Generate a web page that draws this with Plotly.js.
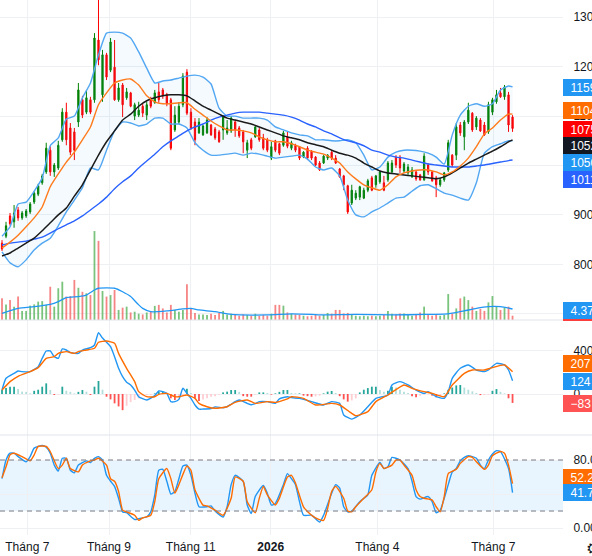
<!DOCTYPE html>
<html><head><meta charset="utf-8">
<script src="https://cdn.plot.ly/plotly-3.0.1.min.js"></script>
<style>html,body{margin:0;padding:0;background:#fff}#chart{width:592px;height:556px}</style>
</head><body><div id="chart"></div>
<script>
// ---------- DATA (one candle per ~2 trading days) ----------
const open = [8430,8570,8980,8860,9100,8940,8980,9060,9260,9420,
9650,9870,10310,9870,9950,10520,11080,10760,10680,10880,
11330,11080,11330,11330,12540,11430,12240,11930,11990,11330,
11630,11370,11470,11000,11020,11200,11020,11350,11270,11490,
11530,11430,11330,10720,10880,11230,11890,11080,10880,10660,
10620,10660,10820,10740,10680,10720,10660,10700,10880,10760,
10680,10310,10520,10580,10720,10560,10520,10150,10500,10440,
10410,10580,10350,10410,10380,10170,10350,10290,10170,10050,
10050,10150,10270,10150,9930,9790,9590,9240,9340,9360,
9340,9500,9750,9610,9670,9650,9710,9870,10170,10170,
9890,9850,9770,9870,9810,9710,10010,9870,9750,9610,
9710,9910,10210,10210,10820,10580,10880,11060,10780,10920,
10820,10680,11080,11290,11470,11390,11430,10980];
const high = [8490,8860,9040,9200,9160,9080,9120,9260,9480,9630,
9830,10460,10390,10050,10500,11160,11270,10860,10760,11670,
11410,11530,11390,12680,13400,12340,12280,12580,12540,11670,
11670,11570,11490,11270,11290,11250,11290,11390,11530,11670,
11570,11470,11370,11200,11270,11870,11950,11160,10960,10960,
10820,10980,10840,10780,10720,11020,10920,11000,10920,10800,
10720,10520,10560,10800,10760,10640,10560,10480,10520,10460,
10700,10680,10500,10440,10390,10290,10390,10310,10190,10090,
10210,10230,10290,10210,9950,9810,9610,9610,9500,9590,
9550,9730,9790,9810,9890,9790,10090,10110,10210,10210,
10070,10030,9970,9910,9830,10250,10050,9890,9790,9750,
9870,10520,10230,10860,10880,10920,11270,11080,11000,10960,
10880,11290,11370,11530,11570,11630,11490,11020];
const low = [8270,8530,8780,8740,8880,8900,8940,9020,9220,9380,
9610,9830,9790,9770,9910,10480,10410,10210,10110,10780,
10960,11040,11040,11270,12030,11290,11730,11890,11310,11290,
10980,11330,11180,10920,10980,10980,10920,11160,11250,11270,
11350,11200,10310,10680,10840,11180,11020,10720,10410,10640,
10600,10640,10600,10520,10460,10520,10620,10660,10580,10560,
10250,10150,10310,10560,10480,10310,10270,10110,10270,10210,
10380,10350,10310,10270,10110,10150,10110,10110,9990,9890,
10030,10110,10110,10030,9750,9500,9020,9200,9300,9300,
9320,9460,9480,9550,9630,9480,9670,9830,9950,9850,
9850,9810,9750,9690,9690,9690,9810,9670,9360,9570,
9670,9870,9970,10110,10600,10310,10840,10680,10720,10680,
10600,10640,11020,11250,11370,11330,10680,10680];
const close = [8310,8780,8820,9040,8940,9040,9080,9220,9440,9590,
9790,10350,9870,10010,10410,11080,10520,10270,10310,11530,
11020,11370,11080,12580,12140,12240,11790,12500,11330,11570,
11230,11490,11200,11230,11120,11060,11230,11200,11470,11330,
11410,11250,10350,11020,11200,11810,11060,10760,10520,10880,
10800,10920,10620,10560,10480,10980,10760,10960,10720,10600,
10480,10460,10350,10780,10520,10350,10310,10380,10310,10250,
10660,10390,10460,10310,10150,10270,10150,10150,10010,9910,
10190,10210,10150,10050,9770,9610,9060,9500,9440,9570,
9500,9690,9500,9790,9870,9500,10050,10050,10010,9950,
10030,9970,9910,9730,9710,10190,9870,9690,9610,9710,
9850,10460,10010,10780,10660,10880,11120,10720,10960,10700,
10620,11230,11330,11430,11390,11590,10820,10750];
// volume, millions
const volume = [8.6,6.2,7.9,5.3,9.3,3.6,3.6,5.7,6.2,7.3,
7.5,6.0,13.2,5.3,12.6,15.2,9.3,9.5,15.9,12.8,
11.2,10.6,9.9,35.3,31.4,11.5,9.3,9.9,11.9,4.0,
4.9,5.3,3.0,3.3,2.5,2.2,3.0,3.3,5.6,6.0,
4.6,3.0,6.0,4.0,3.3,4.0,14.2,4.6,2.8,2.2,
2.2,2.0,2.5,2.0,3.0,3.6,2.2,2.5,2.0,1.7,
2.2,2.0,1.7,2.5,1.7,2.0,1.7,2.5,6.0,6.0,
5.7,3.0,2.5,2.2,2.0,1.7,1.5,1.7,2.0,1.7,
2.0,2.8,2.5,4.0,4.0,2.6,2.8,2.2,1.7,1.5,
1.7,1.5,1.7,1.5,1.7,2.0,3.6,2.5,2.2,2.6,
2.6,2.2,1.7,2.0,3.0,5.3,2.0,1.7,2.2,1.7,
2.0,10.3,2.6,4.6,8.6,9.3,7.9,5.3,3.6,4.4,
3.6,7.0,9.5,5.3,4.0,4.9,5.3,1.7];
const volMaIdx = [0,4,8,12,14,16,19,21,23,24,28,30,32,34,35,37,41,45,47,49,53,57,66,72,77,80,88,97,105,110,112,115,118,121,124,127];
const volMa = [2.6,4.6,5.3,6.2,7.3,8.9,9.3,9.9,11.9,12.6,12.6,11.2,9.3,6.0,4.6,3.3,3.6,4.4,4.6,4.0,3.3,2.2,2.0,2.4,2.2,2.0,2.2,2.0,2.2,2.3,2.7,3.6,4.6,5.3,5.3,4.37];

// price-overlay lines sampled every second candle
const lineIdx = [0,2,4,6,8,10,12,14,16,18,20,22,24,26,28,30,32,34,36,38,40,42,44,46,48,50,52,54,56,58,60,62,64,66,68,70,72,74,76,78,80,82,84,86,88,90,92,94,96,98,100,102,104,106,108,110,112,114,116,118,120,122,124,126,127];
const bbUpper = [8570,8760,9220,9260,9480,9750,10400,10560,10940,11000,
11370,11670,12240,12680,12700,12680,12580,12300,11970,11670,
11710,11730,11770,11810,11830,11790,11650,11160,11000,11000,
10960,10960,10960,10920,10780,10720,10660,10620,10600,10520,
10520,10500,10500,10520,10460,10210,9910,9970,10170,10270,
10310,10310,10290,10250,10170,10030,10620,11020,11200,11250,
11200,11250,11530,11610,11590];
const bbLower = [8250,8030,7950,8090,8290,8430,8530,8780,9060,9300,
9550,9950,9910,10310,10700,10880,10860,10800,10840,10960,
10960,10840,10840,10760,10460,10310,10210,10210,10230,10250,
10210,10250,10230,10190,10150,10170,10190,10210,10130,9970,
9910,9950,9790,9300,9000,8960,9060,9140,9240,9340,
9360,9480,9590,9610,9530,9440,9400,9340,9300,9650,
10250,10380,10440,10500,10500];
const bbMid = [8330,8450,8590,8760,8940,9160,9570,9830,10070,10270,
10520,10780,11230,11470,11670,11730,11750,11630,11410,11290,
11250,11250,11270,11270,11140,11020,10900,10800,10720,10720,
10700,10660,10580,10520,10480,10480,10440,10380,10310,10270,
10230,10150,10050,9870,9730,9610,9550,9500,9610,9770,
9850,9890,9910,9910,9870,9810,9870,9990,10150,10380,
10640,10760,10920,11040,11040];
const maBlack = [8170,8230,8330,8430,8530,8680,8840,9000,9140,9380,
9610,9910,10210,10480,10700,10920,11040,11200,11310,11370,
11410,11430,11430,11410,11310,11200,11120,11040,10960,10920,
10880,10840,10780,10720,10660,10600,10560,10520,10460,10420,
10380,10310,10250,10210,10150,10050,9970,9890,9850,9830,
9810,9790,9770,9750,9730,9770,9850,9950,10050,10130,
10210,10290,10380,10480,10520];
const maBlue = [8390,8430,8450,8470,8510,8550,8630,8720,8800,8880,
8980,9100,9220,9360,9530,9670,9790,9950,10090,10230,
10380,10500,10600,10700,10780,10840,10920,10980,11020,11060,
11080,11080,11080,11060,11040,11020,10980,10920,10840,10780,
10700,10640,10560,10500,10460,10400,10310,10270,10210,10170,
10150,10110,10070,10030,10010,9990,9970,9970,9970,9990,
10010,10040,10070,10100,10110];

// MACD
const macdIdx = [0,1,3,4,5,7,9,10,11,12,13,14,15,16,17,19,20,22,23,24,25,26,27,28,29,30,31,32,33,34,36,38,39,40,41,42,43,44,45,46,47,48,49,50,52,53,55,56,57,58,59,61,62,63,64,66,68,69,71,72,74,77,80,82,84,85,87,89,91,93,96,97,99,101,103,105,106,108,110,111,112,114,116,118,120,121,123,125,126,127];
const macdLine = [37,146,192,214,208,208,254,332,400,400,347,332,419,409,384,378,409,431,456,570,520,481,440,347,239,161,110,84,37,-25,-56,-15,28,22,6,-71,-71,-50,53,6,-40,-102,-140,-140,-135,-120,-127,-118,-95,-71,-56,-87,-100,-90,-71,-71,-87,-45,-25,-34,-40,-71,-102,-71,-87,-195,-233,-195,-118,-40,-9,84,115,84,37,6,22,-25,-40,22,146,239,270,223,208,223,285,270,223,124];
const sigIdx = [0,2,4,7,9,11,13,14,16,18,19,21,23,24,26,28,29,31,33,34,36,38,39,41,43,44,46,48,49,51,53,56,58,61,63,66,68,71,72,75,78,82,84,87,88,91,93,96,100,102,105,107,110,112,115,117,120,122,125,127];
const sigLine = [37,115,165,208,245,332,347,378,394,378,394,409,425,481,493,471,378,239,115,22,-25,-25,-3,6,-25,-25,-9,-40,-87,-118,-133,-118,-78,-56,-87,-71,-78,-46,-25,-40,-102,-87,-102,-180,-202,-164,-71,-9,84,53,22,6,-25,84,192,223,223,245,270,207];
const macdHist = [37,55,68,68,46,22,20,6,30,40,
68,99,37,-9,-5,68,30,20,6,20,
37,22,-9,68,121,40,-25,-50,-87,-115,
-150,-110,-75,-56,-40,-15,-10,-8,6,22,
22,6,-40,-56,-25,-20,50,10,-40,-65,
-50,-40,-25,-20,-6,15,22,37,37,20,
-20,-25,-25,-6,15,15,10,-6,6,20,
37,37,10,6,6,-15,-20,-25,-22,-15,
6,22,28,10,-20,-50,-71,-60,-40,15,
40,55,68,68,37,22,30,68,60,40,
22,10,-20,-30,-15,-6,-3,-15,-30,-20,
6,40,60,80,84,60,40,25,10,-10,
-9,-6,30,46,20,6,-40,-83];

// Stochastic
const kIdx = [0,1,2,3,4,6,7,8,10,11,12,13,14,15,16,17,18,19,21,22,23,24,25,26,27,28,29,30,31,33,35,36,37,38,39,40,41,42,43,44,45,46,47,48,49,51,52,53,55,56,57,58,60,61,62,63,65,66,67,68,70,71,72,73,74,75,77,79,80,82,83,84,85,86,87,89,90,91,92,94,95,96,97,99,101,102,103,104,106,107,108,109,111,112,113,114,115,116,118,119,120,121,122,123,124,126,127];
const stochK = [58,80,88,88,84,78,84,94,97,95,88,74,67,82,82,68,65,74,79,77,82,84,80,62,55,49,35,19,18,10,12,13,19,39,68,69,55,40,43,58,73,74,62,41,25,25,26,20,13,25,51,62,55,27,17,37,50,41,27,29,51,64,58,51,31,15,15,7,15,41,51,47,25,19,20,31,35,39,62,77,70,72,83,80,70,55,37,34,37,31,18,21,51,66,70,79,83,85,82,74,70,80,87,91,90,70,41.7];
const dIdx = [0,1,2,3,5,7,8,9,11,12,14,15,16,17,19,20,22,23,24,26,27,28,29,30,31,33,34,35,37,38,39,41,42,43,44,46,47,48,50,51,53,55,57,58,60,61,63,64,65,66,68,69,71,72,73,75,77,78,80,81,82,83,85,86,87,88,90,92,93,94,95,97,98,99,100,102,103,104,105,107,108,109,110,111,113,114,116,117,118,120,121,122,124,125,126,127];
const stochD = [59,72,86,88,84,79,86,96,96,90,70,74,82,70,66,74,79,80,82,74,58,55,43,21,19,15,9,12,15,31,58,70,58,41,51,73,68,45,27,26,21,15,35,60,55,31,18,35,49,39,27,35,60,62,53,25,15,12,9,23,43,49,35,20,19,25,35,45,66,76,70,74,80,80,74,62,45,37,35,33,25,19,37,64,69,76,84,83,78,69,74,85,90,88,74,52.2];

// x-axis ticks (candle index of each month start)
const tickPos = [6.29, 26.62, 46.94, 66.84, 93.36, 122.21];
const tickText = ['Tháng 7', 'Tháng 9', 'Tháng 11', '<b>2026</b>', 'Tháng 4', 'Tháng 7'];

// ---------- CHART ----------
const FONT = '"Liberation Sans", Arial, sans-serif';
const days = open.map((_, i) => i);
const isUp = close.map((c, i) => c >= open[i]);
const last = a => a[a.length - 1];

const volColors = isUp.map(u => u ? 'rgba(76,175,80,0.75)' : 'rgba(242,80,80,0.7)');
const histColors = macdHist.map((h, i) => {
  const p = i > 0 ? macdHist[i - 1] : h;
  if (h >= 0) return h >= p ? '#26a69a' : '#b2dfdb';
  return h <= p ? '#ff5252' : '#ffcdd2';
});

const line = (x, y, color, w, yaxis, extra) => Object.assign({
  type: 'scatter', mode: 'lines', x, y, yaxis, hoverinfo: 'skip',
  line: {color, width: w, shape: 'spline', smoothing: 0.5}
}, extra || {});

const data = [
  line(lineIdx, bbUpper, '#52a7f2', 1.4, 'y'),
  line(lineIdx, bbLower, '#52a7f2', 1.4, 'y', {fill: 'tonexty', fillcolor: 'rgba(33,150,243,0.05)'}),
  line(lineIdx, maBlue, '#2962ff', 1.4, 'y'),
  line(lineIdx, maBlack, '#1a1a1a', 1.5, 'y'),
  line(lineIdx, bbMid, '#ff7b1c', 1.4, 'y'),
  {type: 'candlestick', x: days, open, high, low, close, yaxis: 'y', hoverinfo: 'skip',
   whiskerwidth: 0,
   increasing: {line: {color: '#008000', width: 1}, fillcolor: '#008000'},
   decreasing: {line: {color: '#ff0000', width: 1}, fillcolor: '#ff0000'}},
  {type: 'bar', x: days, y: volume, yaxis: 'y2', width: 0.45, hoverinfo: 'skip',
   marker: {color: volColors, line: {width: 0}}},
  line(volMaIdx, volMa, '#2196f3', 1.3, 'y2'),
  {type: 'bar', x: days, y: macdHist, yaxis: 'y3', width: 0.45, hoverinfo: 'skip',
   marker: {color: histColors, line: {width: 0}}},
  line(macdIdx, macdLine, '#2196f3', 1.4, 'y3'),
  line(sigIdx, sigLine, '#ff6d00', 1.4, 'y3'),
  line(kIdx, stochK, '#2196f3', 1.4, 'y4'),
  line(dIdx, stochD, '#ff6d00', 1.4, 'y4'),
];

const GRID = '#eef0f4';
const axisFont = {family: FONT, size: 12, color: '#131722'};
const yCommon = {side: 'right', anchor: 'x', showgrid: true, gridcolor: GRID, zeroline: false,
  showline: false, ticks: 'outside', ticklen: 7, tickcolor: 'rgba(0,0,0,0)', tickfont: axisFont, fixedrange: true};

const MAIN_BOTTOM = 215 / 535, MACD_BOTTOM = 100 / 535;

function lbl(text, bg, yref, y) {
  return {xref: 'paper', x: 1, xanchor: 'left', yref, y, yanchor: 'middle',
    text: '\u2002' + text + '\u2002\u2002', showarrow: false, bgcolor: bg,
    borderpad: 1.5, borderwidth: 0, font: {family: FONT, size: 12, color: '#ffffff'}};
}
const fmtNeg = v => (v < 0 ? '\u2212' + Math.abs(v) : String(v));

const annotations = [
  lbl(String(last(bbUpper)), '#2196f3', 'y', 11575),
  lbl(String(last(bbMid)), '#ff6d00', 'y', 11120),
  lbl(String(last(close)), '#ff0000', 'y', 10720),
  lbl(String(last(maBlack)), '#131722', 'y', 10415),
  lbl(String(last(bbLower)), '#2196f3', 'y', 10070),
  lbl(String(last(maBlue)), '#2962ff', 'y', 9715),
  lbl(last(volMa).toFixed(2) + 'M', '#2196f3', 'y2', 3.7),
  lbl(String(last(sigLine)), '#ff6d00', 'y3', 288),
  lbl(String(last(macdLine)), '#2196f3', 'y3', 121),
  lbl(fmtNeg(last(macdHist)), '#ff5252', 'y3', -84),
  lbl(last(stochD).toFixed(2), '#ff6d00', 'y4', 60),
  lbl(last(stochK).toFixed(2), '#2196f3', 'y4', 41.2),
  {xref: 'paper', yref: 'paper', x: 1.037, y: -0.025, xanchor: 'left', yanchor: 'middle',
   text: '\u2699', showarrow: false, font: {family: 'DejaVu Sans', size: 16, color: '#131722'}},
];

const shapes = [
  {type: 'rect', xref: 'paper', yref: 'y4', x0: 0, x1: 1, y0: 20, y1: 80,
   fillcolor: 'rgba(33,150,243,0.1)', line: {width: 0}, layer: 'below'},
  {type: 'line', xref: 'paper', yref: 'y4', x0: 0, x1: 1, y0: 80, y1: 80,
   line: {color: '#787b86', width: 1, dash: '5px,4px'}},
  {type: 'line', xref: 'paper', yref: 'y4', x0: 0, x1: 1, y0: 20, y1: 20,
   line: {color: '#787b86', width: 1, dash: '5px,4px'}},
  {type: 'line', xref: 'paper', yref: 'paper', x0: 0, x1: 1.06, y0: MAIN_BOTTOM, y1: MAIN_BOTTOM,
   line: {color: '#e0e3eb', width: 1.2}},
  {type: 'line', xref: 'paper', yref: 'paper', x0: 0, x1: 1.06, y0: MACD_BOTTOM, y1: MACD_BOTTOM,
   line: {color: '#e0e3eb', width: 1.2}},
  {type: 'line', xref: 'paper', yref: 'paper', x0: 1, x1: 1.06, y0: MAIN_BOTTOM, y1: MAIN_BOTTOM,
   line: {color: '#ff0000', width: 1.5}},
];

const layout = {
  width: 592, height: 556,
  margin: {l: 0, r: 29, t: 0, b: 21, pad: 0},
  paper_bgcolor: '#ffffff', plot_bgcolor: '#ffffff',
  showlegend: false, hovermode: false, boxgap: 0.55,
  font: {family: FONT, color: '#131722'},
  xaxis: {anchor: 'y4', range: [-0.5, 139.55], tickvals: tickPos, ticktext: tickText,
    showgrid: true, gridcolor: GRID, zeroline: false, showline: false,
    ticks: 'outside', ticklen: 1, tickcolor: 'rgba(0,0,0,0)', tickfont: axisFont,
    rangeslider: {visible: false}, fixedrange: true},
  yaxis: Object.assign({}, yCommon, {domain: [MAIN_BOTTOM, 1], range: [6873, 13350],
    tickvals: [7000, 8000, 9000, 10000, 11000, 12000, 13000],
    ticktext: ['7000', '8000', '9000', '10000', '11000', '12000', '13000']}),
  yaxis2: {overlaying: 'y', anchor: 'x', range: [0, 127], visible: false, fixedrange: true},
  yaxis3: Object.assign({}, yCommon, {domain: [MACD_BOTTOM, MAIN_BOTTOM], range: [-381, 688],
    tickvals: [0, 400], ticktext: ['0', '400']}),
  yaxis4: Object.assign({}, yCommon, {domain: [0, MACD_BOTTOM], range: [-8.2, 109.4],
    tickvals: [0, 40, 80], ticktext: ['0.00', '40.00', '80.00']}),
  annotations, shapes,
};

Plotly.newPlot('chart', data, layout, {displayModeBar: false, staticPlot: true});
</script></body></html>
